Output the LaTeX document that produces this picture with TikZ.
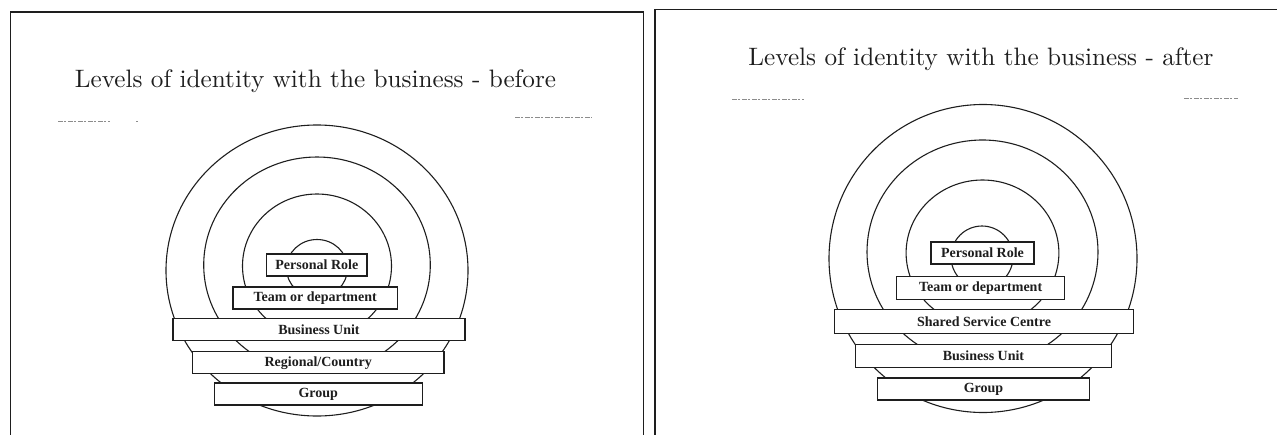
\documentclass[tikz,border=0pt]{standalone}
\usepackage{fontspec}
\newfontfamily\labelfont{Liberation Serif}
\newfontfamily\titlefont{lmroman10-regular}[Extension=.otf]
\usepackage{xcolor}
\definecolor{scanink}{HTML}{1E1E1E}
\definecolor{scanmuted}{HTML}{8C8C8C}

\tikzset{
  levelbox/.style={draw=scanink, line width=1.2pt, fill=white, inner sep=0pt,
    minimum height=22pt, text=scanink,
    font=\labelfont\bfseries\fontsize{14}{16}\selectfont},
  ring/.style={draw=scanink, line width=1.1pt},
  slidetitle/.style={anchor=base, text=scanink, font=\titlefont\fontsize{25.2}{30}\selectfont},
  scanmark/.style={draw=scanmuted, line width=0.8pt, dash pattern=on 5pt off 1pt on 2pt off 2pt}
}

\begin{document}
\begin{tikzpicture}[x=1pt, y=-1pt]
  \useasboundingbox (0,0) rectangle (1277,434);
  \clip (0,0) rectangle (1277,434);

  % slide frames
  \draw[scanink, line width=1.3pt] (10.5,440) -- (10.5,12) -- (643.5,12) -- (643.5,440);
  \draw[scanink, line width=1.3pt] (655,440) -- (655,9.5) -- (1285,9.5);

  % titles
  \node[slidetitle] (titlebefore) at (315.5,87) {Levels of identity with the business - before};
  \node[slidetitle] (titleafter) at (981,65) {Levels of identity with the business - after};

  % faint rule remnants
  \draw[scanmark] (58,121) -- (110,121);
  \draw[scanmark] (136,121) -- (138,121);
  \draw[scanmark] (515,117) -- (592,117);
  \draw[scanmark] (732,99.5) -- (804,99.5);
  \draw[scanmark] (1184,98) -- (1238,98);

  % rings - before
  \draw[ring] (317,268.5) ellipse [x radius=30.5, y radius=29];
  \draw[ring] (317,266) ellipse [x radius=74.5, y radius=72];
  \draw[ring] (317,265) ellipse [x radius=113.3, y radius=108];
  \draw[ring] (317,270.5) ellipse [x radius=151, y radius=145.5];

  % rings - after
  \draw[ring] (982,257) ellipse [x radius=31, y radius=31];
  \draw[ring] (982.5,253) ellipse [x radius=76.4, y radius=73];
  \draw[ring] (982.5,252) ellipse [x radius=115.5, y radius=112];
  \draw[ring] (983,258.5) ellipse [x radius=154, y radius=154];

  % levels - before
  \node[levelbox, minimum width=100.5pt] (rolebefore) at (316.8,265) {Personal Role};
  \node[levelbox, minimum width=164.5pt] (teambefore) at (315.2,298) {Team or department};
  \node[levelbox, minimum width=292pt] (unitbefore) at (319,329.5) {Business Unit};
  \node[levelbox, minimum width=251.5pt] (regionbefore) at (318.2,362.7) {Regional/Country};
  \node[levelbox, minimum width=208pt] (groupbefore) at (318.3,394) {Group};

  % levels - after
  \node[levelbox, minimum width=103pt] (roleafter) at (982.5,253) {Personal Role};
  \node[levelbox, minimum width=167.6pt, minimum height=23pt] (teamafter) at (980.6,287.8) {Team or department};
  \node[levelbox, minimum width=298.4pt, minimum height=24pt] (sscafter) at (984,321.5) {Shared Service Centre};
  \node[levelbox, minimum width=256pt, minimum height=23.5pt] (unitafter) at (983.5,356) {Business Unit};
  \node[levelbox, minimum width=211.6pt] (groupafter) at (983.5,389) {Group};
\end{tikzpicture}
\end{document}
